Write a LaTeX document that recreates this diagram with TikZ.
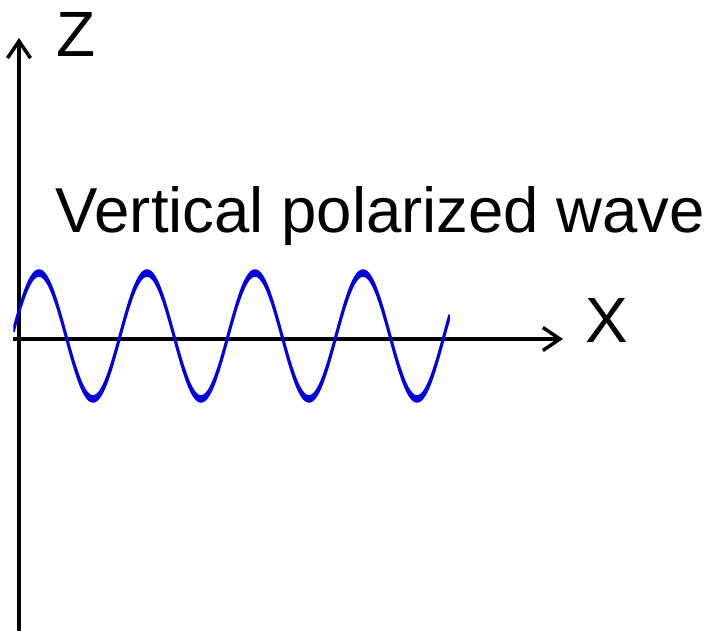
\documentclass[tikz,border=0pt]{standalone}
\usepackage{fontspec}
\setmainfont{Liberation Sans}
\usetikzlibrary{positioning,arrows.meta}
\definecolor{waveblue}{RGB}{0,0,225}

\begin{document}
\begin{tikzpicture}[x=1pt,y=1pt,>={Straight Barb[length=17pt,width=23pt]},line width=3.5pt,
    lbl/.style={inner sep=0pt,font=\fontsize{64}{77}\selectfont}]
        \useasboundingbox (0,0) rectangle (709,631);
        % axes
        \coordinate (zbot) at (19,0);
        \coordinate (ztip) at (19,593);
        \coordinate (xbeg) at (13,292);
        \coordinate (xtip) at (563,292);
        \draw[->] (zbot) -- (ztip);
        \draw[->] (xbeg) -- (xtip);
        \node[lbl,anchor=base west] (zlabel) at (55,574) {Z};
        \node[lbl,anchor=base west] (xlabel) at (584,288) {X};
        \node[lbl,anchor=base west,font=\fontsize{63.5}{76}\selectfont] (title) at (54,398) {Vertical polarized wave};
        % wave
        \filldraw[waveblue,line width=1.5pt,line join=round]
            plot[domain=14:449,samples=220,smooth] (\x,{298+63*sin((\x-12)*3.33333)})
            -- plot[domain=449:14,samples=220,smooth] (\x,{292+63*sin((\x-12)*3.33333)}) -- cycle;
    \end{tikzpicture}
\end{document}
